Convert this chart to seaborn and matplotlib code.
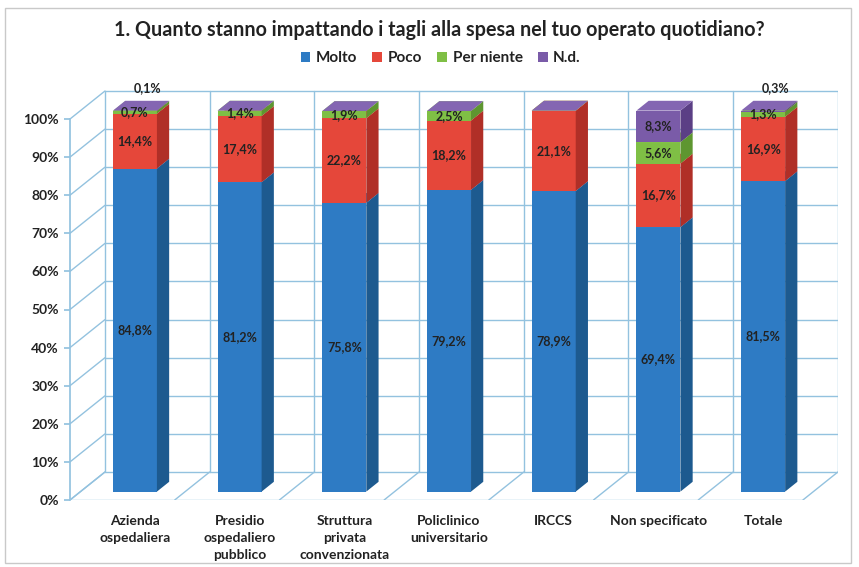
import matplotlib
matplotlib.use("Agg")
import matplotlib.pyplot as plt
from matplotlib.patches import Polygon, Rectangle, Patch
import seaborn as sns

# ---- data ---------------------------------------------------------------
categories = ["Azienda\nospedaliera", "Presidio\nospedaliero\npubblico",
              "Struttura\nprivata\nconvenzionata", "Policlinico\nuniversitario",
              "IRCCS", "Non specificato", "Totale"]
molto = [84.8, 81.2, 75.8, 79.2, 78.9, 69.4, 81.5]
poco = [14.4, 17.4, 22.2, 18.2, 21.1, 16.7, 16.9]
per_niente = [0.7, 1.4, 1.9, 2.5, 0.0, 5.6, 1.3]
nd = [0.1, 0.0, 0.0, 0.0, 0.0, 8.3, 0.3]
series_names = ["Molto", "Poco", "Per niente", "N.d."]
y_ticks = list(range(0, 101, 10))
title = "1. Quanto stanno impattando i tagli alla spesa nel tuo operato quotidiano?"

# ---- style --------------------------------------------------------------
sns.set_theme(style="white")
plt.rcParams["font.family"] = ["Lato", "DejaVu Sans"]

front_cols = ["#2E7BC4", "#E5473A", "#7FBF45", "#7A5BA8"]
side_cols = ["#1D5A8F", "#B02F27", "#5E9630", "#5B3F85"]
top_cols = ["#3A88CF", "#EC5A4C", "#8FCB55", "#8466B2"]
grid_col = "#93C2DF"
text_col = "#222222"

# oblique projection: depth offset of the back wall in data units
DX = 0.334          # category units
DY = 7.35           # percentage points
F0, F1 = 0.30, 0.65  # bar depth range (fraction of full depth)
BW = 0.42           # bar width
n = len(categories)

W, H = 859, 567
fig = plt.figure(figsize=(W / 100, H / 100), dpi=100)
fig.patch.set_facecolor("white")
ax = fig.add_axes([70 / W, 67 / H, (n + DX) * 104.7 / W, 108 * 3.81 / H])
ax.set_xlim(0, n + DX)
ax.set_ylim(0, 108)
ax.set_facecolor("none")

# ---- walls and floor ----------------------------------------------------
lw = 1.0
for v in y_ticks:
    ax.plot([0, DX], [v, v + DY], color=grid_col, lw=lw, zorder=1)
    ax.plot([DX, n + DX], [v + DY, v + DY], color=grid_col, lw=lw, zorder=1)
for k in range(n + 1):
    ax.plot([DX + k, DX + k], [DY, 100 + DY], color=grid_col, lw=lw, zorder=1)
    ax.plot([k, k + DX], [0, DY], color=grid_col, lw=lw, zorder=1)
ax.plot([0, n], [0, 0], color=grid_col, lw=lw, zorder=1)

# ---- stacked 3-D bars ---------------------------------------------------
series = [molto, poco, per_niente, nd]
dxb = (F1 - F0) * DX
dyb = (F1 - F0) * DY


def fmt(v):
    return f"{v:.1f}".replace(".", ",") + "%"


for i in range(n):
    xc = i + 0.52 + F0 * DX
    xl, xr = xc - BW / 2, xc + BW / 2
    base = F0 * DY
    bottom = base
    for s, vals in enumerate(series):
        v = vals[i]
        top = bottom + v
        ax.bar(xc, v, width=BW, bottom=bottom, color=front_cols[s],
               edgecolor="none", linewidth=0, zorder=3)
        ax.add_patch(Polygon([(xr, bottom), (xr + dxb, bottom + dyb),
                              (xr + dxb, top + dyb), (xr, top)],
                             closed=True, facecolor=side_cols[s],
                             edgecolor="none", zorder=3))
        ax.add_patch(Polygon([(xl, top), (xr, top), (xr + dxb, top + dyb),
                              (xl + dxb, top + dyb)],
                             closed=True, facecolor=top_cols[s],
                             edgecolor="none", zorder=3))
        if v > 0:
            if s == 3 and v < 1:
                ax.text(xc + dxb, top + 6.0, fmt(v), ha="center", va="center",
                        fontsize=9, fontweight="bold", color=text_col,
                        zorder=5, clip_on=False)
            else:
                ax.text(xc, bottom + v / 2, fmt(v), ha="center", va="center",
                        fontsize=9, fontweight="bold", color=text_col,
                        zorder=5)
        bottom = top

# ---- axes ---------------------------------------------------------------
for side in ["top", "right", "bottom"]:
    ax.spines[side].set_visible(False)
ax.spines["left"].set_color(grid_col)
ax.spines["left"].set_bounds(0, 100)
ax.set_yticks(y_ticks, [f"{t}%" for t in y_ticks])
ax.tick_params(axis="y", length=4, color=grid_col, pad=4, labelsize=10,
               labelcolor=text_col, left=True)
for lab in ax.get_yticklabels():
    lab.set_fontweight("bold")
ax.set_xticks([i + 0.52 + F0 * DX for i in range(n)], categories)
ax.tick_params(axis="x", length=0, pad=11, labelsize=10, labelcolor=text_col)
for lab in ax.get_xticklabels():
    lab.set_fontweight("bold")
    lab.set_linespacing(1.5)
    lab.set_verticalalignment("top")
ax.grid(False)

# ---- title, legend, frame -----------------------------------------------
fig.text(0.512, 1 - 30 / H, title, ha="center", va="center",
         fontsize=14.2, fontweight="bold", color=text_col)
handles = [Patch(facecolor=c, edgecolor="none") for c in front_cols]
leg = fig.legend(handles, series_names, loc="center", ncol=4,
                 bbox_to_anchor=(0.513, 1 - 58 / H), frameon=False,
                 handlelength=0.65, handleheight=0.65, handletextpad=0.35,
                 columnspacing=1.0, prop={"size": 11, "weight": "bold"})
for t in leg.get_texts():
    t.set_color(text_col)

fig.patches.append(Rectangle((5 / W, 4 / H), 846 / W, 555 / H,
                             transform=fig.transFigure, fill=False,
                             edgecolor="#C9C9C9", linewidth=1.0))

fig.savefig("out.png", dpi=100, facecolor="white")
